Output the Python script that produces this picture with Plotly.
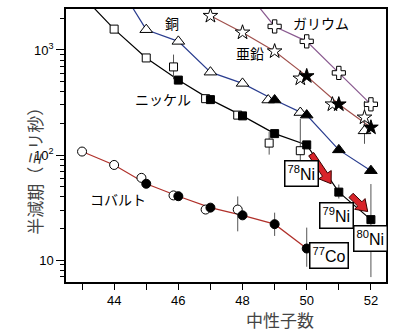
import numpy as np
import plotly.graph_objects as go

# ---------------- data ----------------
# Cobalt
co_line_n = [43, 44, 45, 46, 47, 48, 49, 50]
co_line_v = [108, 80.5, 53.3, 40.6, 31.6, 26.7, 22, 12.9]
co_old_n = [43, 44, 44.85, 45.85, 46.85, 47.85]
co_old_v = [108, 80.5, 60.7, 41.3, 30.3, 30.3]
co_old_hi = [None, None, None, None, None, 40.4]
co_old_lo = [None, None, None, None, None, 18.8]
co_new_n = [45, 46, 47, 48, 49, 50]
co_new_v = [53.3, 40.6, 31.6, 26.7, 22, 12.9]
co_new_hi = [None, None, None, None, 28.3, 20.4]
co_new_lo = [None, None, None, None, 17.0, 8.65]

# Nickel
ni_line_n = [43, 44, 45, 46, 47, 48, 49, 50, 51, 52]
ni_line_v = [3300, 1580, 840, 517, 337, 236, 160, 125, 44.4, 24.3]
ni_old_n = [44, 45, 45.85, 46.85, 47.85, 48.83, 49.8]
ni_old_v = [1580, 840, 690, 344, 240, 130, 110]
ni_old_hi = [None, None, 904, None, None, 166, 221]
ni_old_lo = [None, None, 527, None, None, 101, 51]
ni_new_n = [46, 47, 48, 49, 50, 51, 52]
ni_new_v = [517, 337, 236, 160, 125, 44.4, 24.3]
ni_new_hi = [None, None, None, None, None, 52.5, 53]
ni_new_lo = [None, None, None, None, None, 38.6, 6.9]

# Copper
cu_line_n = [44, 45, 46, 47, 48, 49, 50, 51, 52]
cu_line_v = [4850, 1560, 1208, 615, 481, 334, 240, 112, 71]
cu_old_n = [45, 46, 47, 48, 48.8, 49.8, 51.8]
cu_old_v = [1560, 1208, 615, 481, 334, 254, 170]
cu_old_hi = [None, None, None, None, None, None, 327]
cu_old_lo = [None, None, None, None, None, None, 128]
cu_new_n = [49, 50, 51, 52]
cu_new_v = [334, 240, 112, 71]

# Zinc
zn_line_n = [47, 48, 49, 50, 51, 52]
zn_line_v = [2115, 1468, 972, 564, 304, 183]
zn_old_n = [47, 48, 49, 49.8, 50.8, 51.8]
zn_old_v = [2115, 1468, 972, 536, 304, 228]
zn_new_n = [50, 51, 52]
zn_new_v = [564, 304, 183]

# Gallium
ga_line_n = [48, 49, 50, 51, 52]
ga_line_v = [4000, 1675, 1208, 605, 304]
ga_n = [49, 50, 51, 52]
ga_v = [1675, 1208, 605, 304]

x_ticks = [44, 46, 48, 50, 52]
y_ticks = [10, 100, 1000]
y_ticktext = ["10", "10<sup>2</sup>", "10<sup>3</sup>"]

# ---------------- figure ----------------
CO_C = "#b0302a"
NI_C = "#000000"
CU_C = "#2a3d8f"
ZN_C = "#a0504c"
GA_C = "#8a5a90"
ERR_C = "#555555"

X_RANGE = [42.5, 52.47]
Y_RANGE = [0.792, 3.39]  # log10
PLOT_W, PLOT_H = 320, 275

fig = go.Figure()


def add_line(n, v, color):
    fig.add_trace(go.Scatter(x=n, y=v, mode="lines",
                             line=dict(color=color, width=1.2),
                             hoverinfo="skip", showlegend=False))


def err_arrays(v, hi, lo):
    plus = [0 if h is None else h - y for y, h in zip(v, hi)]
    minus = [0 if l is None else y - l for y, l in zip(v, lo)]
    return plus, minus


def add_err(n, v, hi, lo):
    plus, minus = err_arrays(v, hi, lo)
    fig.add_trace(go.Scatter(x=n, y=v, mode="markers",
                             marker=dict(size=1, color="rgba(0,0,0,0)"),
                             error_y=dict(type="data", symmetric=False,
                                          array=plus, arrayminus=minus,
                                          color=ERR_C, thickness=1, width=0),
                             hoverinfo="skip", showlegend=False))


def add_markers(n, v, symbol, size, filled):
    fig.add_trace(go.Scatter(x=n, y=v, mode="markers",
                             marker=dict(symbol=symbol, size=size,
                                         color="black" if filled else "white",
                                         line=dict(color="black", width=1)),
                             hoverinfo="skip", showlegend=False))


add_line(ga_line_n, ga_line_v, GA_C)
add_line(zn_line_n, zn_line_v, ZN_C)
add_line(cu_line_n, cu_line_v, CU_C)
add_line(ni_line_n, ni_line_v, NI_C)
add_line(co_line_n, co_line_v, CO_C)

add_err(co_old_n, co_old_v, co_old_hi, co_old_lo)
add_err(co_new_n, co_new_v, co_new_hi, co_new_lo)
add_err(ni_old_n, ni_old_v, ni_old_hi, ni_old_lo)
add_err(ni_new_n, ni_new_v, ni_new_hi, ni_new_lo)
add_err(cu_old_n, cu_old_v, cu_old_hi, cu_old_lo)

add_markers(co_old_n, co_old_v, "circle", 9, False)
add_markers(co_new_n, co_new_v, "circle", 9, True)
add_markers(ni_old_n, ni_old_v, "square", 8, False)
add_markers(ni_new_n, ni_new_v, "square", 8, True)
add_markers(cu_old_n, cu_old_v, "triangle-up", 11, False)
add_markers(cu_new_n, cu_new_v, "triangle-up", 11, True)
add_markers(zn_old_n, zn_old_v, "star", 11, False)
add_markers(zn_new_n, zn_new_v, "star", 11, True)
add_markers(ga_n, ga_v, "cross", 11, False)

L = np.log10
JP = "Noto Sans CJK JP"

# element labels
labels = [("銅", 45.79, 3.255), ("ガリウム", 50.45, 3.255), ("亜鉛", 48.22, 2.972),
          ("ニッケル", 45.53, 2.531), ("コバルト", 44.13, 1.585)]
for t, x, y in labels:
    fig.add_annotation(x=x, y=y, text=t, showarrow=False,
                       font=dict(family=JP, size=14, color="black"))


# arrows as filled polygons (paper coordinates, built in plot-pixel units)
def to_px(xd, yd_log):
    return (np.array([(xd - X_RANGE[0]) / (X_RANGE[1] - X_RANGE[0]) * PLOT_W,
                      (yd_log - Y_RANGE[0]) / (Y_RANGE[1] - Y_RANGE[0]) * PLOT_H]))


def arrow_path(s, e, hw=3.0, HW=7.5, HL=11.0):
    s = to_px(*s)
    e = to_px(*e)
    d = e - s
    u = d / np.hypot(*d)
    nrm = np.array([-u[1], u[0]])
    h = e - u * HL
    pts = [s + nrm * hw, h + nrm * hw, h + nrm * HW, e,
           h - nrm * HW, h - nrm * hw, s - nrm * hw]
    pp = [(p[0] / PLOT_W, p[1] / PLOT_H) for p in pts]
    return "M " + " L ".join(f"{a:.5f},{b:.5f}" for a, b in pp) + " Z"


arrows = [((50.14, L(102)), (50.76, L(53.3))), ((51.38, L(41.3)), (51.9, L(29)))]
for s, e in arrows:
    fig.add_shape(type="path", path=arrow_path(s, e), xref="paper", yref="paper",
                  fillcolor="#d8242a", line=dict(color="#3a0000", width=1),
                  layer="above")

# nucleus boxes
boxes = [("78", "Ni", 49.84, 1.829), ("79", "Ni", 50.92, 1.427),
         ("80", "Ni", 51.98, 1.209), ("77", "Co", 50.69, 1.048)]
for a, s, x, y in boxes:
    fig.add_annotation(x=x, y=y, text=f"<sup>{a}</sup>{s}", showarrow=False,
                       font=dict(family="Liberation Sans Narrow, Liberation Sans", size=16,
                                 color="black"),
                       bordercolor="black", borderwidth=1.5, borderpad=2,
                       bgcolor="white")

# axis titles
fig.add_annotation(xref="paper", yref="paper", x=0.781, y=-0.138,
                   text="中性子数", showarrow=False, yanchor="middle",
                   font=dict(family=JP, size=17, color="#444444"))
fig.add_annotation(xref="paper", yref="paper", x=-0.144, y=0.68,
                   text="半減期（ミリ秒）", showarrow=False, textangle=-90,
                   font=dict(family=JP, size=17, color="#444444"))

minor_y = [v * m for v in (1, 10, 100, 1000) for m in range(2, 10)]
minor_y = [v for v in minor_y if 6 < v < 2500]

fig.update_layout(
    width=400, height=335,
    margin=dict(l=66, r=14, t=7, b=53),
    paper_bgcolor="white", plot_bgcolor="white",
    showlegend=False,
    xaxis=dict(range=X_RANGE, tickvals=x_ticks,
               ticktext=[str(v) for v in x_ticks],
               ticks="outside", ticklen=6, tickwidth=1, tickcolor="black",
               minor=dict(tickvals=[43, 45, 47, 49, 51], ticks="outside",
                          ticklen=6, tickcolor="black", showgrid=False),
               showline=True, linecolor="black", linewidth=1.5, mirror=True,
               showgrid=False, zeroline=False,
               tickfont=dict(family="Liberation Sans", size=13, color="black")),
    yaxis=dict(type="log", range=Y_RANGE, tickvals=y_ticks,
               ticktext=y_ticktext,
               ticks="outside", ticklen=8, tickwidth=1, tickcolor="black",
               minor=dict(tickvals=minor_y, ticks="outside", ticklen=4,
                          tickcolor="black", showgrid=False),
               showline=True, linecolor="black", linewidth=1.5, mirror=True,
               showgrid=False, zeroline=False,
               tickfont=dict(family="Liberation Sans", size=13, color="black")),
)

fig.write_html("out.html")
